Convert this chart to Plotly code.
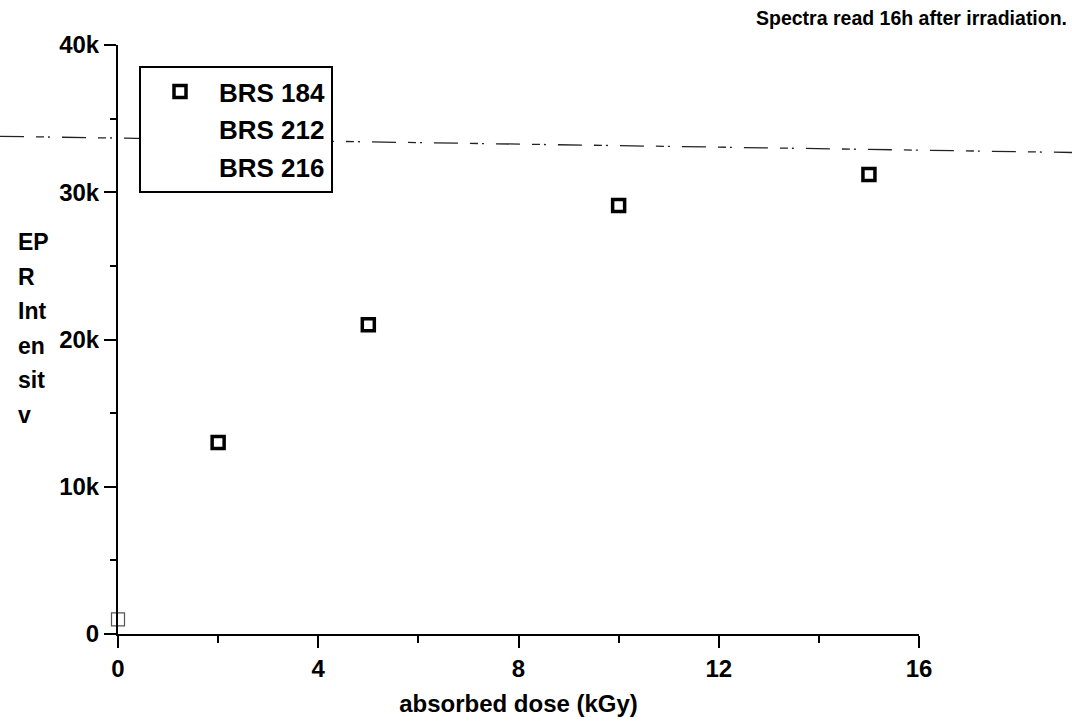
import plotly.graph_objects as go

# ---- data ----
dose_184 = [2, 5, 10, 15]
intensity_184 = [13000, 21000, 29100, 31200]
dose_184_zero = [0]
intensity_184_zero = [1000]
series_names = ["BRS 184", "BRS 212", "BRS 216"]
saturation_left = 33800
saturation_right = 32700
x_tickvals = [0, 4, 8, 12, 16]
x_ticktext = ["0", "4", "8", "12", "16"]
y_tickvals = [0, 10000, 20000, 30000, 40000]
y_ticktext = ["0", "10k", "20k", "30k", "40k"]
y_title_lines = ["EP", "R", "Int", "en", "sit", "v"]
note_text = "Spectra read 16h after irradiation."
x_title = "absorbed dose (kGy)"

# ---- layout geometry (pixels) ----
W, H = 1072, 722
L, R, T, B = 118, 153, 45, 88
pw, ph = W - L - R, H - T - B
def px(xpix):
    return (xpix - L) / pw
def py(ypix):
    return (H - B - ypix) / ph

FONT = "Liberation Sans, Arial, sans-serif"
def f(size):
    return dict(family=FONT, size=size, color="black", weight="bold")

fig = go.Figure()
fig.add_trace(go.Scatter(
    x=dose_184, y=intensity_184, mode="markers", name=series_names[0],
    legendgroup="g1",
    marker=dict(symbol="square-open", size=12, color="black",
                line=dict(width=3.5, color="black")),
    cliponaxis=False,
))
fig.add_trace(go.Scatter(
    x=dose_184_zero, y=intensity_184_zero, mode="markers", showlegend=False,
    marker=dict(symbol="square-open", size=13, color="#555",
                line=dict(width=1.2, color="#555")),
    cliponaxis=False,
))
for i, nm in enumerate(series_names[1:]):
    fig.add_trace(go.Scatter(
        x=[None], y=[None], mode="markers", name=nm, legendgroup="g%d" % (i + 2),
        marker=dict(size=1, color="rgba(0,0,0,0)"),
    ))

fig.add_shape(
    type="line", xref="paper", yref="y",
    x0=px(0), x1=px(W), y0=saturation_left, y1=saturation_right,
    line=dict(color="#222", width=1.3, dash="24px,12px,8px,4px,2px,12px"),
)

annotations = []
for i, t in enumerate(y_title_lines):
    annotations.append(dict(
        text=t, xref="paper", yref="paper", x=px(16), y=py(242 + 34.6 * i),
        xanchor="left", yanchor="middle", showarrow=False, font=f(23),
    ))
annotations.append(dict(
    text=note_text, xref="paper", yref="paper", x=px(1069), y=py(18),
    xanchor="right", yanchor="middle", showarrow=False, font=f(19.5),
))
fig.update_layout(annotations=annotations)

fig.update_layout(
    width=W, height=H,
    margin=dict(l=L, r=R, t=T, b=B, pad=0, autoexpand=False),
    paper_bgcolor="white", plot_bgcolor="white",
    font=f(24),
    showlegend=True,
    legend=dict(
        x=px(139), y=py(66), xanchor="left", yanchor="top",
        bordercolor="black", borderwidth=2, bgcolor="white",
        font=f(26), tracegroupgap=1, itemwidth=68,
    ),
    xaxis=dict(
        range=[0, 16], showgrid=False, zeroline=False, automargin=False,
        showline=True, linecolor="black", linewidth=2,
        ticks="outside", ticklen=12, tickwidth=2, tickcolor="black",
        tickvals=x_tickvals, ticktext=x_ticktext, tickfont=f(24),
        minor=dict(dtick=2, tick0=0, ticks="outside", ticklen=7,
                   tickwidth=2, tickcolor="black", showgrid=False),
        title=dict(text=x_title, font=f(24), standoff=14),
        fixedrange=True,
    ),
    yaxis=dict(
        range=[0, 40000], showgrid=False, zeroline=False, automargin=False,
        showline=True, linecolor="black", linewidth=2,
        ticks="outside", ticklen=12, tickwidth=2, tickcolor="black",
        tickvals=y_tickvals, ticktext=y_ticktext, tickfont=f(24),
        minor=dict(dtick=5000, tick0=0, ticks="outside", ticklen=6,
                   tickwidth=2, tickcolor="black", showgrid=False),
        fixedrange=True,
    ),
)

fig.write_html(
    "out.html",
    config={"displayModeBar": False},
    post_script="document.body.style.margin='0';document.body.style.overflow='hidden';",
)
